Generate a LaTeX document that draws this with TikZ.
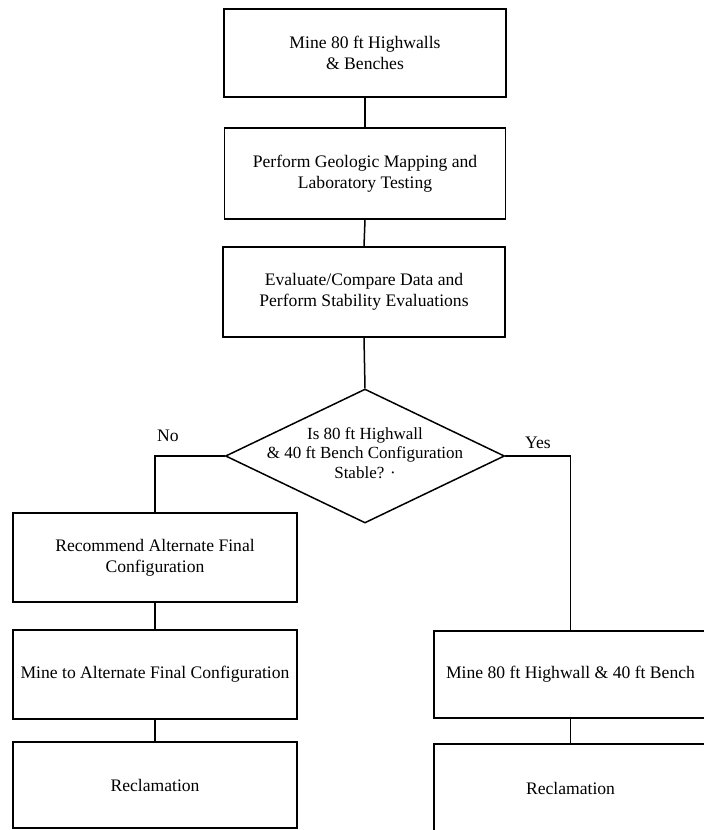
\documentclass[tikz,border=0pt]{standalone}
\usepackage{fontspec}
\setmainfont{Liberation Serif}
\usetikzlibrary{shapes.geometric}
\begin{document}
\begin{tikzpicture}[x=1pt,y=-1pt,
  every path/.style={line width=1.5pt},
  txt/.style={font=\fontsize{17.6}{21}\selectfont, align=center},
  stepbox/.style={draw, line width=1.5pt, inner sep=0pt, txt},
  lbl/.style={font=\fontsize{17.6}{21}\selectfont}]
\useasboundingbox (0,0) rectangle (704,830);
\node[stepbox, minimum width=282pt, minimum height=88pt] (b1) at (365,53) {Mine 80 ft Highwalls\\\& Benches};
\node[stepbox, minimum width=281pt, minimum height=91pt] (b2) at (365,173.5) {Perform Geologic Mapping and\\Laboratory Testing};
\node[stepbox, minimum width=282pt, minimum height=90pt] (b3) at (364,292) {Evaluate/Compare Data and\\Perform Stability Evaluations};
\node[diamond, draw, line width=1.5pt, minimum width=279pt, minimum height=134pt, inner sep=0pt] (d) at (365,456) {};
\node[txt, font=\fontsize{17}{19.5}\selectfont] (dt) at ([yshift=3pt]d.center) {Is 80 ft Highwall\\\& 40 ft Bench Configuration\\Stable? ·};
\node[stepbox, minimum width=284pt, minimum height=89pt] (b4) at (155,557.5) {Recommend Alternate Final\\Configuration};
\node[stepbox, minimum width=284pt, minimum height=89pt] (b5) at (155,674.5) {Mine to Alternate Final Configuration};
\node[stepbox, minimum width=284pt, minimum height=86pt] (b6) at (155,785) {Reclamation};
\node[stepbox, minimum width=273pt, minimum height=87pt] (b7) at (570.5,674.5) {Mine 80 ft Highwall \& 40 ft Bench};
\node[stepbox, minimum width=273pt, minimum height=88pt] (b8) at (570.5,788) {Reclamation};
\node[lbl] (no) at (168,436) {No};
\node[lbl] (yes) at (538,443) {Yes};
\draw (b1.south) -- (b2.north);
\draw (b2.south) -- (b3.north);
\draw (b3.south) -- (d.north);
\draw (d.west) -| (b4.north);
\draw (d.east) -| (b7.north);
\draw (b4.south) -- (b5.north);
\draw (b5.south) -- (b6.north);
\draw (b7.south) -- (b8.north);
\end{tikzpicture}
\end{document}
